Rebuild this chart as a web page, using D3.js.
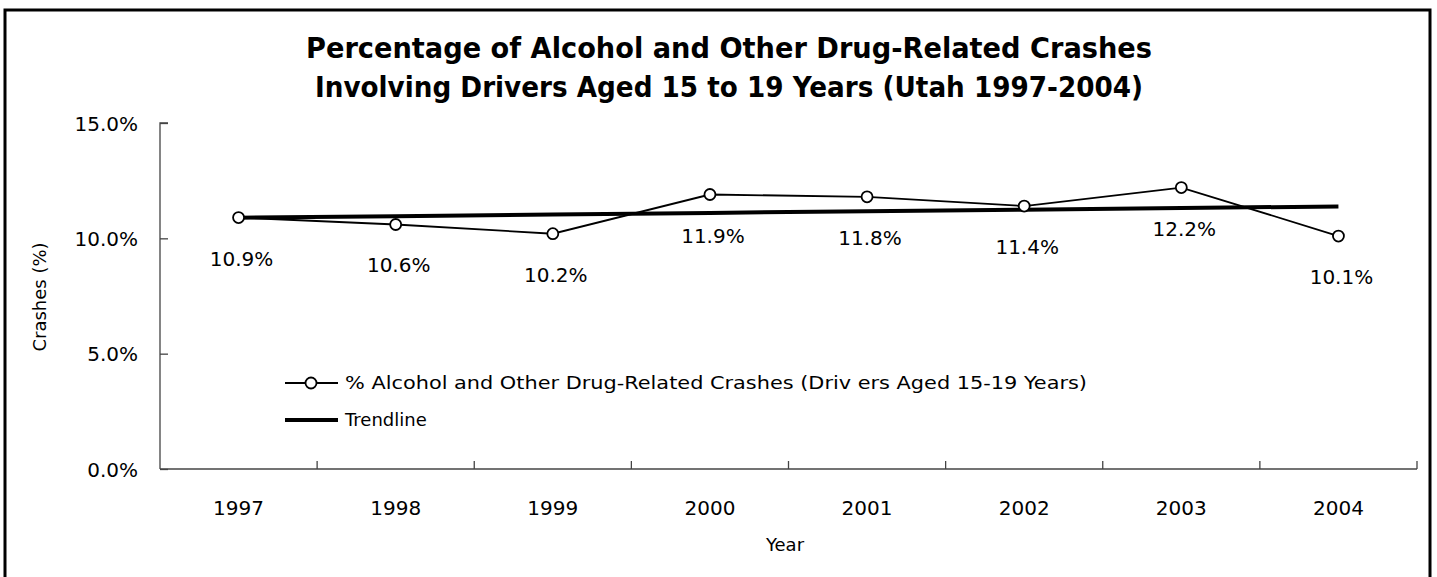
<!DOCTYPE html>
<html><head><meta charset="utf-8">
<script src="https://d3js.org/d3.v7.min.js"></script>
<style>
body{margin:0;background:white;}
text{font-family:"DejaVu Sans",sans-serif;fill:#000;}
</style>
</head>
<body>
<script>
// chart data
var years=["1997","1998","1999","2000","2001","2002","2003","2004"];
var pct=[10.9,10.6,10.2,11.9,11.8,11.4,12.2,10.1];
var yTicks=[0,5,10,15];
var titleLines=["Percentage of Alcohol and Other Drug-Related Crashes","Involving Drivers Aged 15 to 19 Years (Utah 1997-2004)"];
var legendLabels=["% Alcohol and Other Drug-Related Crashes (Driv ers Aged 15-19 Years)","Trendline"];

var W=1437,H=577;
// plot box (don't use "top", it clashes with window.top)
var pL=160,pR=1417,pT=123,pB=469;

var svg=d3.select("body").append("svg")
 .attr("width",W).attr("height",H);

// outer frame
svg.append("rect")
 .attr("x",5).attr("y",10).attr("width",1425).attr("height",600)
 .attr("fill","none").attr("stroke","#000").attr("stroke-width",3);

var x=d3.scaleBand().domain(years).range([pL,pR]);
var y=d3.scaleLinear().domain([0,15]).range([pB,pT]);

// title
svg.selectAll(".title").data(titleLines).enter().append("text")
 .attr("class","title")
 .attr("x",729).attr("y",function(d,i){return 58+i*39;})
 .attr("text-anchor","middle")
 .attr("font-size","29px").attr("font-weight","bold")
 .attr("textLength",function(d,i){return i==0?846:828;})
 .attr("lengthAdjust","spacingAndGlyphs")
 .text(function(d){return d;});

// y axis (ticks point inward)
var yAxis=d3.axisRight(y).tickValues(yTicks).tickSize(8).tickFormat(function(d){return d.toFixed(1)+"%";});
var ga=svg.append("g").attr("transform","translate("+pL+",0)").call(yAxis);
ga.select(".domain").attr("stroke","#444").attr("stroke-width",1.3).attr("d","M8,"+pT+"H0V"+pB);
ga.selectAll(".tick line").attr("stroke","#444").attr("stroke-width",1.3);
ga.selectAll(".tick text").attr("x",-22).attr("text-anchor","end")
 .attr("font-size","20px").attr("font-family","DejaVu Sans").attr("dy","0.35em");

// x axis, ticks between categories
var gx=svg.append("g").attr("transform","translate(0,"+pB+")");
gx.append("line").attr("x1",pL).attr("x2",pR).attr("y1",0).attr("y2",0)
 .attr("stroke","#444").attr("stroke-width",1.3);
gx.selectAll(".xt").data(years).enter().append("line")
 .attr("class","xt")
 .attr("x1",function(d){return x(d)+x.bandwidth();})
 .attr("x2",function(d){return x(d)+x.bandwidth();})
 .attr("y1",0).attr("y2",-8)
 .attr("stroke","#444").attr("stroke-width",1.3);
gx.selectAll(".xl").data(years).enter().append("text")
 .attr("class","xl")
 .attr("x",function(d){return x(d)+x.bandwidth()/2;})
 .attr("y",39).attr("dy","0.35em")
 .attr("text-anchor","middle").attr("font-size","20px")
 .text(function(d){return d;});

// axis titles
svg.append("text").attr("x",785).attr("y",545).attr("dy","0.35em")
 .attr("text-anchor","middle").attr("font-size","18px").text("Year");
svg.append("text").attr("transform","translate(40,297) rotate(-90)")
 .attr("dy","0.35em").attr("text-anchor","middle").attr("font-size","18px").text("Crashes (%)");

// linear trendline from data
var n=pct.length,mx=(n-1)/2,my=d3.mean(pct);
var sxy=0,sxx=0;
pct.forEach(function(v,i){sxy+=(i-mx)*(v-my);sxx+=(i-mx)*(i-mx);});
var slope=sxy/sxx,icpt=my-slope*mx;
var trend=years.map(function(d,i){return {year:d,v:icpt+slope*i};});

var cx=function(d){return x(d)+x.bandwidth()/2;};

svg.append("path").datum(trend)
 .attr("d",d3.line().x(function(d){return cx(d.year);}).y(function(d){return y(d.v);}))
 .attr("fill","none").attr("stroke","#000").attr("stroke-width",4);

var pts=years.map(function(d,i){return {year:d,v:pct[i]};});
svg.append("path").datum(pts)
 .attr("d",d3.line().x(function(d){return cx(d.year);}).y(function(d){return y(d.v);}))
 .attr("fill","none").attr("stroke","#000").attr("stroke-width",1.8);

svg.selectAll(".pt").data(pts).enter().append("circle")
 .attr("class","pt")
 .attr("cx",function(d){return cx(d.year);})
 .attr("cy",function(d){return y(d.v);})
 .attr("r",5.5).attr("fill","white").attr("stroke","#000").attr("stroke-width",1.8);

svg.selectAll(".lbl").data(pts).enter().append("text")
 .attr("class","lbl")
 .attr("x",function(d){return cx(d.year)+3;})
 .attr("y",function(d){return y(d.v)+41;}).attr("dy","0.35em")
 .attr("text-anchor","middle").attr("font-size","20px")
 .text(function(d){return d.v.toFixed(1)+"%";});

// legend
var lg=svg.append("g");
lg.append("line").attr("x1",285).attr("x2",338).attr("y1",383).attr("y2",383)
 .attr("stroke","#000").attr("stroke-width",1.8);
lg.append("circle").attr("cx",311).attr("cy",383).attr("r",5.5)
 .attr("fill","white").attr("stroke","#000").attr("stroke-width",1.8);
lg.append("line").attr("x1",285).attr("x2",338).attr("y1",420).attr("y2",420)
 .attr("stroke","#000").attr("stroke-width",4);
lg.selectAll(".lt").data(legendLabels).enter().append("text")
 .attr("class","lt")
 .attr("x",345).attr("y",function(d,i){return 383+i*37;}).attr("dy","0.35em")
 .attr("font-size","18px")
 .text(function(d){return d;});
lg.selectAll(".lt").filter(function(d,i){return i==0;})
 .attr("textLength",742).attr("lengthAdjust","spacingAndGlyphs");
</script>
</body></html>
